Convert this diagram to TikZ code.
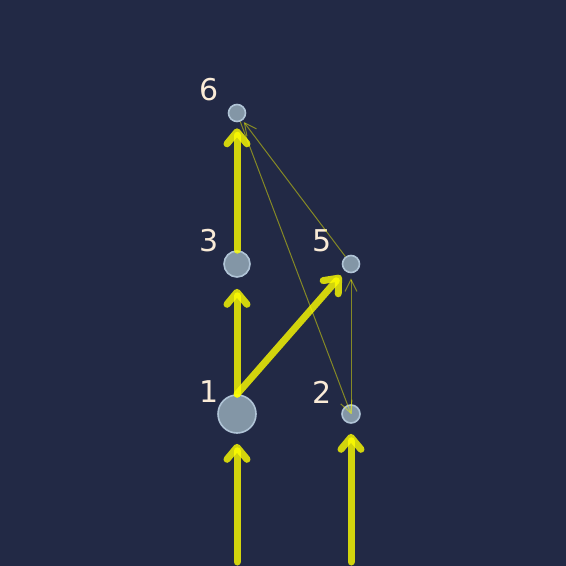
\documentclass[tikz,border=0pt]{standalone}
\usepackage{fontspec}
\setmainfont{DejaVu Sans}
\usetikzlibrary{arrows.meta}

\definecolor{bgnavy}{RGB}{34,41,69}
\definecolor{nodefill}{RGB}{131,150,166}
\definecolor{nodeedge}{RGB}{176,196,214}
\definecolor{labcream}{RGB}{250,235,215}
\definecolor{flowyellow}{RGB}{255,255,0}

\begin{document}
\begin{tikzpicture}[x=0.5pt, y=-0.5pt,
  vert/.style={circle, draw=nodeedge, fill=nodefill, line width=0.8pt, inner sep=0pt},
  lbl/.style={font=\fontsize{15}{18}\selectfont, text=labcream, inner sep=0pt},
  flow/.style={-{Straight Barb[length=6pt, width=10pt, round]}, line width=3.5pt,
               line cap=round, draw=flowyellow, draw opacity=0.8},
  link/.style={-{Straight Barb[length=6pt, width=6pt]}, line width=0.5pt,
               draw=flowyellow, draw opacity=0.45},
]

\fill[bgnavy] (0,0) rectangle (566,566);
\useasboundingbox (0,0) rectangle (566,566);

\node[vert, minimum size=19pt] (n1) at (237,414) {};
\node[vert, minimum size=9pt] (n2) at (351,414) {};
\node[vert, minimum size=13pt] (n3) at (237,264) {};
\node[vert, minimum size=8.5pt] (n5) at (351,264) {};
\node[vert, minimum size=8.5pt] (n6) at (237,113) {};

\node[lbl] (l1) at (209,392) {1};
\node[lbl] (l2) at (322,392) {2};
\node[lbl] (l3) at (209,241) {3};
\node[lbl] (l5) at (322,241) {5};
\node[lbl] (l6) at (209,90) {6};

% inputs from below
\coordinate (in1) at (237,562);
\coordinate (in2) at (351,562);

% thin links
\draw[link, shorten >=1pt] (n5) -- (n6);
\draw[link, shorten >=2.5pt] (n2.center) -- (n5);
\draw[link] (n6) -- (n2.center);

% thick flow
\draw[flow, shorten >=5pt] (in1) -- (n1);
\draw[flow, shorten >=5pt] (in2) -- (n2);
\draw[flow, shorten >=5.5pt] (n1) -- (n3);
\draw[flow, shorten >=3pt] (n1.north) -- (n5);
\draw[flow, shorten >=3pt] (n3) -- (n6);

\end{tikzpicture}
\end{document}
